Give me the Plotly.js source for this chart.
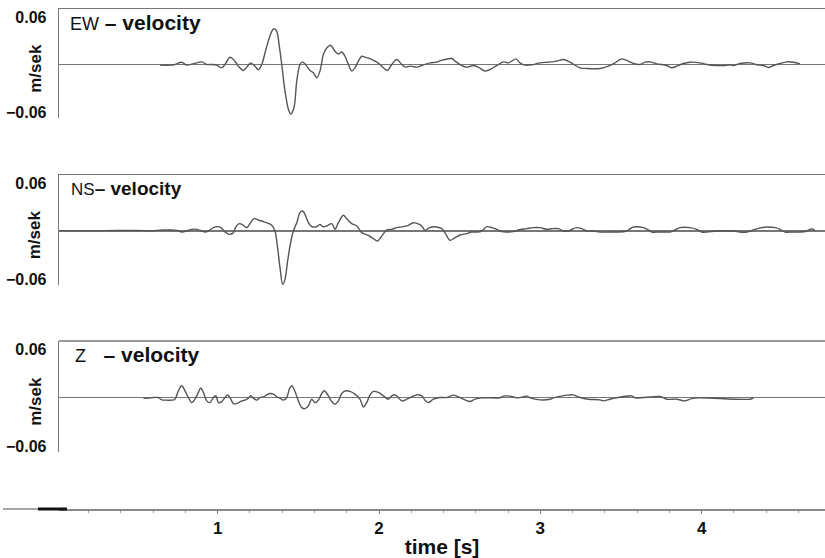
<!DOCTYPE html>
<html>
<head>
<meta charset="utf-8">
<script src="https://cdn.plot.ly/plotly-3.0.1.min.js"></script>
<style>html,body{margin:0;padding:0;background:#fff;}#chart{width:825px;height:558px;}</style>
</head>
<body>
<div id="chart"></div>
<script>
// ---- data (time in s, velocity in m/s) ----
const ewTime = [0.642,0.704,0.735,0.777,0.808,0.870,0.901,0.932,0.963,0.994,1.025,1.045,1.076,1.107,1.128,1.159,1.184,1.206,1.231,1.252,1.273,1.304,1.335,1.349,1.366,1.382,1.397,1.417,1.438,1.452,1.473,1.490,1.510,1.525,1.541,1.572,1.593,1.614,1.634,1.655,1.676,1.700,1.727,1.748,1.769,1.789,1.810,1.831,1.851,1.872,1.893,1.913,1.944,1.975,2.006,2.027,2.052,2.079,2.110,2.141,2.161,2.192,2.234,
 2.265,2.316,2.358,2.389,2.451,2.471,2.513,2.544,2.585,2.616,2.657,2.688,2.730,2.771,2.802,2.823,2.849,2.874,2.905,2.947,2.998,3.050,3.102,3.143,3.184,3.246,3.288,3.370,3.422,3.463,3.505,3.546,3.577,3.618,3.649,3.680,3.722,3.784,3.815,3.846,3.887,3.928,3.990,4.032,4.094,4.145,4.176,4.197,4.238,4.300,4.342,4.383,4.414,4.445,4.486,4.528,4.569,4.610];
const ewVel = [-0.0008,-0.0008,0,0.0029,-0.0008,0.0021,0.0033,0,0,-0.0008,-0.0042,0,0.0092,0.0042,-0.0021,-0.0075,-0.0021,0.0021,-0.0021,-0.0067,0,0.0229,0.0417,0.0450,0.0417,0.0229,0,-0.0333,-0.0563,-0.0625,-0.0542,-0.0208,0,0.0033,0.0008,-0.0075,-0.0104,-0.0167,-0.0083,0.0125,0.0208,0.0242,0.0167,0.0133,0.0158,0.0104,0,-0.0083,-0.0042,0.0042,0.0104,0.0092,0.0075,0.0042,0,-0.0042,-0.0075,0,0.0063,0,-0.0033,-0.0021,-0.0033,
 -0.0013,0.0021,0.0029,0.0054,0.0075,0.0042,-0.0013,-0.0033,-0.0013,-0.0033,-0.0083,-0.0063,-0.0013,0.0033,0.0021,0.0042,0.0071,0.0021,-0.0008,-0.0004,0.0021,0.0029,0.0042,0.0063,0.0029,-0.0042,-0.0050,-0.0050,-0.0021,0.0021,0.0071,0.0042,0.0013,0,0.0029,0.0033,0.0008,-0.0013,-0.0042,-0.0021,0.0013,0.0029,0.0021,0,-0.0013,-0.0013,-0.0004,-0.0013,0.0013,0.0021,-0.0004,-0.0013,-0.0038,-0.0013,0.0013,0.0033,0.0029,0.0008];

const nsTime = [0.02,0.30,0.55,0.580,0.622,0.663,0.704,0.746,0.777,0.808,0.839,0.870,0.901,0.921,0.942,0.973,1.004,1.025,1.045,1.072,1.097,1.113,1.134,1.159,1.180,1.200,1.225,1.252,1.283,1.314,1.335,1.355,1.370,1.386,1.403,1.417,1.432,1.448,1.469,1.490,1.510,1.527,1.541,1.562,1.583,1.614,1.634,1.651,1.676,1.707,1.727,1.748,1.779,1.800,1.831,1.862,1.893,1.934,1.965,1.990,2.017,2.048,2.079,2.110,2.151,2.182,2.213,2.250,
 2.265,2.285,2.306,2.327,2.358,2.389,2.409,2.440,2.471,2.502,2.544,2.575,2.606,2.637,2.668,2.699,2.730,2.761,2.792,2.833,2.864,2.916,2.957,2.998,3.040,3.071,3.112,3.143,3.174,3.195,3.226,3.257,3.288,3.329,3.370,3.422,3.474,3.536,3.567,3.598,3.639,3.670,3.691,3.732,3.773,3.804,3.835,3.866,3.928,3.970,4.001,4.032,4.094,4.197,4.238,4.280,4.321,4.352,4.404,4.455,4.486,4.517,4.559,4.610,4.652,4.672,4.693,4.703];
const nsVel = [0.0005,0.0005,0.0005,0,0.0008,0.0013,0.0013,0.0008,-0.0013,0,0.0021,0.0021,0,-0.0013,0,0.0042,0.0054,0.0033,-0.0013,-0.0042,-0.0021,0.0054,0.0092,0.0071,0.0042,0.0092,0.0154,0.0138,0.0117,0.0096,0.0071,0,-0.0188,-0.0458,-0.0667,-0.0604,-0.0396,-0.0188,0,0.0104,0.0229,0.0250,0.0208,0.0104,0.0054,0.0054,0.0083,0.0054,0.0063,0.0092,0.0021,0.0104,0.0196,0.0154,0.0092,0.0063,-0.0021,-0.0054,-0.0096,-0.0125,-0.0063,0.0013,0.0021,0.0042,0.0054,0.0071,0.0104,0.0083,
 0.0063,0.0008,0.0033,0.0050,0.0050,0.0029,-0.0021,-0.0117,-0.0083,-0.0050,-0.0033,-0.0013,-0.0013,0,0.0054,0.0042,0.0021,-0.0008,-0.0013,-0.0008,0.0013,0.0029,0.0042,0.0042,0.0021,0.0029,0.0029,0,0,0.0021,0.0042,0.0029,0,0,-0.0013,-0.0013,-0.0013,0,0.0042,0.0054,0.0042,0.0013,-0.0013,-0.0013,-0.0013,-0.0013,0.0013,0.0042,0.0042,0.0021,-0.0013,-0.0013,0,0,-0.0013,-0.0013,0.0013,0.0033,0.0050,0.0042,0.0021,-0.0013,-0.0013,-0.0013,0,0.0021,0.0021,0];

const zTime = [0.539,0.570,0.601,0.632,0.653,0.684,0.715,0.735,0.756,0.777,0.797,0.818,0.839,0.859,0.880,0.895,0.911,0.932,0.952,0.973,0.989,1.004,1.025,1.045,1.062,1.076,1.097,1.118,1.149,1.169,1.190,1.205,1.221,1.242,1.262,1.283,1.304,1.324,1.345,1.366,1.386,1.407,1.428,1.444,1.459,1.479,1.500,1.521,1.541,1.562,1.583,1.603,1.624,1.645,1.661,1.686,1.707,1.727,1.748,1.769,1.795,1.820,1.851,1.882,1.903,1.924,1.944,1.965,1.996,2.027,2.058,2.079,2.099,2.120,2.141,2.172,2.203,2.234,2.265,2.285,2.306,
 2.337,2.378,2.420,2.461,2.492,2.533,2.564,2.595,2.637,2.750,2.771,2.812,2.854,2.895,2.916,2.936,2.998,3.060,3.081,3.164,3.205,3.246,3.298,3.370,3.391,3.432,3.474,3.567,3.587,3.742,3.784,3.846,3.897,3.939,3.990,4.300,4.321];
const zVel = [-0.0008,-0.0008,0,0,-0.0029,-0.0033,-0.0033,-0.0021,0.0083,0.0146,0.0083,0,-0.0063,-0.0021,0.0063,0.0117,0.0063,-0.0042,-0.0063,0,0.0021,-0.0063,-0.0050,0,0.0033,0,-0.0075,-0.0075,-0.0042,-0.0033,-0.0008,0.0021,-0.0008,-0.0033,0,0.0008,0.0033,0.0050,0.0042,0.0008,-0.0008,-0.0033,0,0.0104,0.0146,0.0075,-0.0042,-0.0125,-0.0138,-0.0104,-0.0021,-0.0063,-0.0033,0.0050,0.0083,0.0021,-0.0050,-0.0083,-0.0042,0.0050,0.0083,0.0075,0.0042,-0.0021,-0.0117,-0.0063,0.0033,0.0075,0.0063,0.0021,-0.0021,0.0021,0.0033,0,-0.0042,-0.0021,0.0008,0.0033,0.0021,-0.0033,-0.0063,
 -0.0021,0,0,0.0029,0.0008,-0.0029,-0.0050,-0.0021,-0.0004,-0.0004,0.0017,0.0017,-0.0004,0.0008,0.0017,-0.0004,-0.0029,-0.0021,-0.0004,0.0029,0.0033,0,-0.0021,-0.0029,-0.0042,-0.0021,-0.0004,0.0021,-0.0004,0.0013,-0.0021,-0.0021,-0.0042,-0.0013,-0.0004,-0.0021,-0.0004];

const panelNames = ['EW', 'NS', 'Z'];
const yTickVals = [-0.06, 0.06];
const yTickText = ['\u22120.06', '0.06'];
const xTickVals = [1, 2, 3, 4];
const xTickText = ['1', '2', '3', '4'];
const xTitle = 'time [s]';
const yTitle = 'm/sek';

// ---- styling ----
const FONT = 'Liberation Sans, Arial, sans-serif';
const traceStyle = {color: '#555', width: 1.4, shape: 'spline', smoothing: 0.9};
const xRange = [0.016, 4.765];
const yRange = [-0.0675, 0.07];
const domains = [[0.782, 1.0], [0.448, 0.668], [0.114, 0.336]];

const traces = [
  {x: ewTime, y: ewVel, xaxis: 'x', yaxis: 'y'},
  {x: nsTime, y: nsVel, xaxis: 'x2', yaxis: 'y2'},
  {x: zTime, y: zVel, xaxis: 'x3', yaxis: 'y3'}
].map(t => Object.assign(t, {type: 'scatter', mode: 'lines', line: traceStyle, hoverinfo: 'skip', showlegend: false}));

function yAxis(i) {
  return {
    domain: domains[i], range: yRange, anchor: i === 0 ? 'x' : 'x' + (i + 1),
    showline: true, linecolor: '#777', linewidth: 1.3,
    showgrid: false, zeroline: true, zerolinecolor: '#777', zerolinewidth: 1.3,
    tickmode: 'array', tickvals: yTickVals, ticktext: yTickText, ticks: '',
    ticklabelstandoff: 8,
    tickfont: {family: FONT, size: 16, color: '#111', weight: 'bold'}
  };
}
function topXAxis(i) {
  return {
    range: xRange, anchor: i === 0 ? 'y' : 'y' + (i + 1), side: 'top',
    showline: true, linecolor: '#777', linewidth: 1.3,
    showgrid: false, zeroline: false, showticklabels: false, ticks: ''
  };
}

const annotations = [];
const labelPos = [[0.012, 0.974, 21, 18, ' '], [0.0135, 0.642, 19, 17, ''], [0.0185, 0.310, 21, 18, '\u00a0\u00a0\u00a0']];
panelNames.forEach((n, i) => {
  const p = labelPos[i];
  annotations.push({
    xref: 'paper', yref: 'paper', x: p[0], y: p[1], xanchor: 'left', yanchor: 'middle', showarrow: false,
    text: '<span style="font-size:' + p[3] + 'px;font-weight:normal">' + n + '</span>' + p[4] + '<b>\u2013 velocity</b>',
    font: {family: FONT, size: p[2], color: '#111'}
  });
  annotations.push({
    xref: 'paper', yref: 'paper', x: -0.031, y: (domains[i][0] + domains[i][1]) / 2 - 0.01,
    xanchor: 'center', yanchor: 'middle', showarrow: false, textangle: -90,
    text: '<b>' + yTitle + '</b>', font: {family: FONT, size: 17, color: '#111'}
  });
});

const layout = {
  width: 825, height: 558,
  margin: {l: 59, r: 0, t: 9, b: 49},
  paper_bgcolor: '#fff', plot_bgcolor: 'rgba(0,0,0,0)',
  showlegend: false,
  xaxis: topXAxis(0),
  xaxis2: topXAxis(1),
  xaxis3: {
    range: xRange, anchor: 'free', position: 0, side: 'bottom',
    showline: true, linecolor: '#888', linewidth: 1.6,
    showgrid: false, zeroline: false,
    tickmode: 'array', tickvals: xTickVals, ticktext: xTickText,
    ticks: 'outside', ticklen: 3, tickcolor: '#777', tickwidth: 1,
    minor: {tickmode: 'linear', tick0: 0, dtick: 0.2, ticks: 'outside', ticklen: 2, tickcolor: '#999'},
    tickfont: {family: FONT, size: 17, color: '#111', weight: 'bold'},
    title: {text: '<b>' + xTitle + '</b>', font: {family: FONT, size: 21, color: '#111'}, standoff: 3}
  },
  yaxis: yAxis(0),
  yaxis2: yAxis(1),
  yaxis3: yAxis(2),
  annotations: annotations,
  shapes: [
    {type: 'line', xref: 'x3 domain', yref: 'y3 domain', x0: 0, x1: 1, y0: 1, y1: 1, line: {color: '#777', width: 1.3}},
    {type: 'line', xref: 'paper', yref: 'paper', x0: -0.0731, x1: 0, y0: 0, y1: 0, line: {color: '#888', width: 1.6}},
    {type: 'line', xref: 'paper', yref: 'paper', x0: -0.0274, x1: 0.0104, y0: 0, y1: 0, line: {color: '#111', width: 3}}
  ]
};

Plotly.newPlot('chart', traces, layout, {staticPlot: true, displayModeBar: false});
</script>
</body>
</html>
